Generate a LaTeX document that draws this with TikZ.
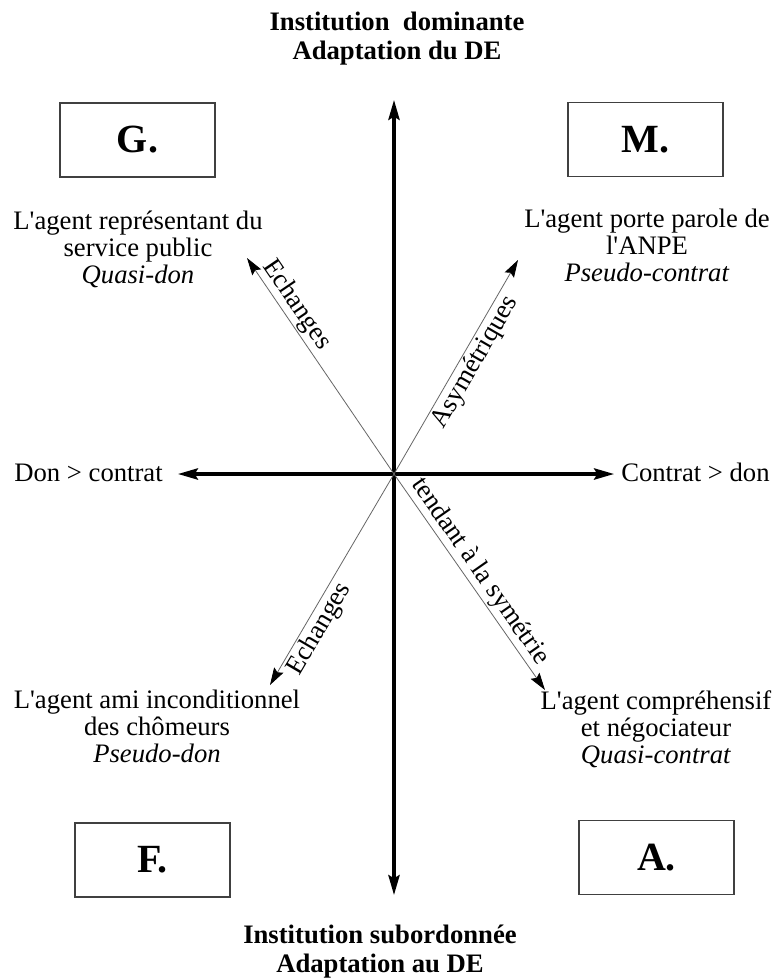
\documentclass[tikz,border=0pt]{standalone}
\usepackage{fontspec}
\setmainfont{Liberation Serif}[Ligatures=TeXOff]
\usetikzlibrary{arrows.meta}
\begin{document}
\begin{tikzpicture}[x=0.75pt,y=-0.75pt,
  txt/.style={font=\fontsize{20}{20.25}\selectfont, align=center, inner sep=0pt},
  ttl/.style={font=\fontsize{20}{21.5}\selectfont\bfseries, align=center, inner sep=0pt},
  lettre/.style={draw=black!75, line width=0.9pt, font=\fontsize{30}{30}\selectfont\bfseries,
    inner sep=0pt, minimum width=116.25pt, minimum height=55.5pt},
  axe/.style={line width=2.3pt, -{Stealth[length=15pt,width=8.5pt,inset=2.5pt]}},
  diag/.style={line width=0.6pt, draw=black!60, -{Stealth[length=13pt,width=8pt,inset=2pt,color=black]}},
  dlab/.style={font=\fontsize{20}{20}\selectfont, inner sep=1.5pt, sloped},
  side/.style={font=\fontsize{20}{20}\selectfont, inner sep=0pt}
]
\useasboundingbox (0,0) rectangle (774,979);
\fill[white] (0,0) rectangle (774,979);

% centre and arrow ends
\coordinate (O) at (394,474);
\coordinate (N) at (394,100);
\coordinate (S) at (394,895);
\coordinate (W) at (178,474);
\coordinate (E) at (614,474);
\coordinate (NW) at (247,258);
\coordinate (NE) at (518,260);
\coordinate (SW) at (270,685);
\coordinate (SE) at (545,690);

% titles
\node[ttl, anchor=north] (top) at (397,12) {Institution\ \ dominante\\Adaptation du DE};
\node[ttl, anchor=north] (bottom) at (380,925) {Institution subordonnée\\Adaptation au DE};

% boxes
\node[lettre] (G) at (137.5,140) {G.};
\node[lettre] (M) at (645.5,139.5) {M.};
\node[lettre] (F) at (152.5,860) {F.};
\node[lettre] (A) at (656.5,857.5) {A.};

% text blocks
\node[txt, anchor=north] (tG) at (138,211) {L'agent représentant du\\service public\\\textit{Quasi-don}};
\node[txt, anchor=north] (tM) at (647,209) {L'agent porte parole de\\l'ANPE\\\textit{Pseudo-contrat}};
\node[txt, anchor=north] (tF) at (157,690) {L'agent ami inconditionnel\\des chômeurs\\\textit{Pseudo-don}};
\node[txt, anchor=north] (tA) at (656,690) {L'agent compréhensif\\et négociateur\\\textit{Quasi-contrat}};

% side labels
\node[side, anchor=base east] (don) at (163,481) {Don > contrat};
\node[side, anchor=base west] (contrat) at (621,481) {Contrat > don};

% axes
\draw[axe] (O) -- (N);
\draw[axe] (O) -- (S);
\draw[axe] (O) -- (W);
\draw[axe] (O) -- (E);

% diagonals
\draw[diag] (O) -- (NW) node[dlab, pos=0.745, above] {Echanges};
\draw[diag] (O) -- (NE) node[dlab, pos=0.555, below] {Asymétriques};
\draw[diag] (O) -- (SE) node[dlab, pos=0.49, above] {tendant à la symétrie};
\draw[diag] (O) -- (SW) node[dlab, pos=0.70, below] {Echanges};
\end{tikzpicture}
\end{document}
